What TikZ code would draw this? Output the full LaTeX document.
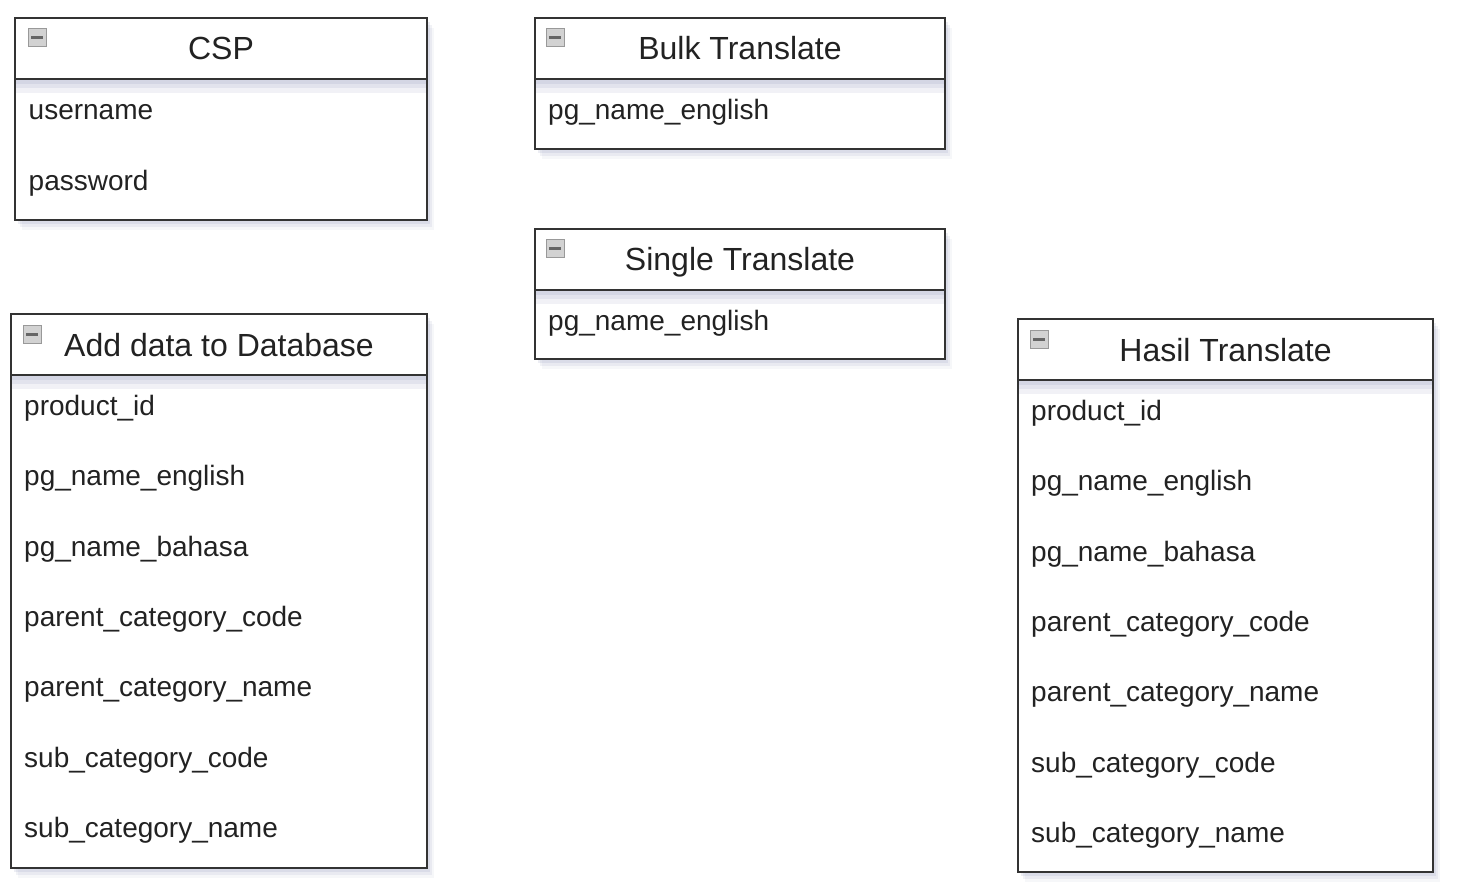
\documentclass[tikz,border=0pt]{standalone}
\usepackage{fontspec}
\setmainfont{Liberation Sans}
\usetikzlibrary{positioning,shadows}

\definecolor{edgegray}{HTML}{333333}
\definecolor{shadowblue}{HTML}{8C93B8}
\definecolor{textgray}{HTML}{222222}

\tikzset{
	softshadow/.style={
		general shadow={fill=shadowblue, fill opacity=0.08, shadow xshift=7pt, shadow yshift=-10pt},
		general shadow={fill=shadowblue, fill opacity=0.12, shadow xshift=5pt, shadow yshift=-7pt},
		general shadow={fill=shadowblue, fill opacity=0.16, shadow xshift=3pt, shadow yshift=-4pt}},
	tablehead/.style={draw=edgegray, line width=2pt, fill=white, outer sep=0pt, minimum height=61pt,
		font=\fontsize{32}{36}\selectfont, text=textgray, text height=23pt, text depth=0pt, softshadow},
	tablebody/.style={draw=edgegray, line width=2pt, fill=white, outer sep=0pt, softshadow,
		path picture={
			\fill[shadowblue, fill opacity=0.12] (path picture bounding box.north west) rectangle ([yshift=-14pt]path picture bounding box.north east);
			\fill[shadowblue, fill opacity=0.14] (path picture bounding box.north west) rectangle ([yshift=-9pt]path picture bounding box.north east);
			\fill[shadowblue, fill opacity=0.16] (path picture bounding box.north west) rectangle ([yshift=-5pt]path picture bounding box.north east);}},
	field/.style={anchor=base west, inner sep=0pt, font=\fontsize{28}{32}\selectfont, text=textgray},
	collapse/.style={draw=gray!80, fill=gray!35, line width=1pt, minimum size=18pt, inner sep=0pt,
		path picture={\draw[line width=3pt, black!60] ([xshift=3pt]path picture bounding box.west) -- ([xshift=-3pt]path picture bounding box.east);}}
}

\begin{document}
\begin{tikzpicture}[x=1pt, y=-1pt, node distance=70.3pt]
		\useasboundingbox (0,0) rectangle (1458,893);
		
		% CSP
		\node[tablehead, minimum width=412pt] (csphead) at (221,48.5) {CSP};
		\node[tablebody, minimum width=412pt, minimum height=141pt, below=0pt of csphead] (cspbody) {};
		\node[collapse] (cspicon) at ([shift={(22,20)}]csphead.north west) {};
		\node[field] (cspuser) at ([shift={(13.5,41)}]csphead.south west) {username};
		\node[field, below=of cspuser.base west, anchor=base west] (csppass) {password};
		
		% Bulk Translate
		\node[tablehead, minimum width=410pt] (bulkhead) at (740,48.5) {Bulk Translate};
		\node[tablebody, minimum width=410pt, minimum height=70pt, below=0pt of bulkhead] (bulkbody) {};
		\node[collapse] (bulkicon) at ([shift={(20,20)}]bulkhead.north west) {};
		\node[field] (bulkeng) at ([shift={(13,41)}]bulkhead.south west) {pg\_name\_english};
		
		% Single Translate
		\node[tablehead, minimum width=410pt] (singlehead) at (740,259.5) {Single Translate};
		\node[tablebody, minimum width=410pt, minimum height=69pt, below=0pt of singlehead] (singlebody) {};
		\node[collapse] (singleicon) at ([shift={(20,20)}]singlehead.north west) {};
		\node[field] (singleeng) at ([shift={(13,40.5)}]singlehead.south west) {pg\_name\_english};
		
		% Add data to Database
		\node[tablehead, minimum width=416pt] (dbhead) at (219,344.5) {Add data to Database};
		\node[tablebody, minimum width=416pt, minimum height=493pt, below=0pt of dbhead] (dbbody) {};
		\node[collapse] (dbicon) at ([shift={(21,20)}]dbhead.north west) {};
		\node[field] (dbid) at ([shift={(13,40.5)}]dbhead.south west) {product\_id};
		\node[field, below=of dbid.base west, anchor=base west] (dbeng) {pg\_name\_english};
		\node[field, below=of dbeng.base west, anchor=base west] (dbbahasa) {pg\_name\_bahasa};
		\node[field, below=of dbbahasa.base west, anchor=base west] (dbpcode) {parent\_category\_code};
		\node[field, below=of dbpcode.base west, anchor=base west] (dbpname) {parent\_category\_name};
		\node[field, below=of dbpname.base west, anchor=base west] (dbscode) {sub\_category\_code};
		\node[field, below=of dbscode.base west, anchor=base west] (dbsname) {sub\_category\_name};
		
		% Hasil Translate
		\node[tablehead, minimum width=415pt] (hasilhead) at (1225.5,349.5) {Hasil Translate};
		\node[tablebody, minimum width=415pt, minimum height=492pt, below=0pt of hasilhead] (hasilbody) {};
		\node[collapse] (hasilicon) at ([shift={(21,20)}]hasilhead.north west) {};
		\node[field] (hasilid) at ([shift={(13,40.5)}]hasilhead.south west) {product\_id};
		\node[field, below=of hasilid.base west, anchor=base west] (hasileng) {pg\_name\_english};
		\node[field, below=of hasileng.base west, anchor=base west] (hasilbahasa) {pg\_name\_bahasa};
		\node[field, below=of hasilbahasa.base west, anchor=base west] (hasilpcode) {parent\_category\_code};
		\node[field, below=of hasilpcode.base west, anchor=base west] (hasilpname) {parent\_category\_name};
		\node[field, below=of hasilpname.base west, anchor=base west] (hasilscode) {sub\_category\_code};
		\node[field, below=of hasilscode.base west, anchor=base west] (hasilsname) {sub\_category\_name};
\end{tikzpicture}
\end{document}
